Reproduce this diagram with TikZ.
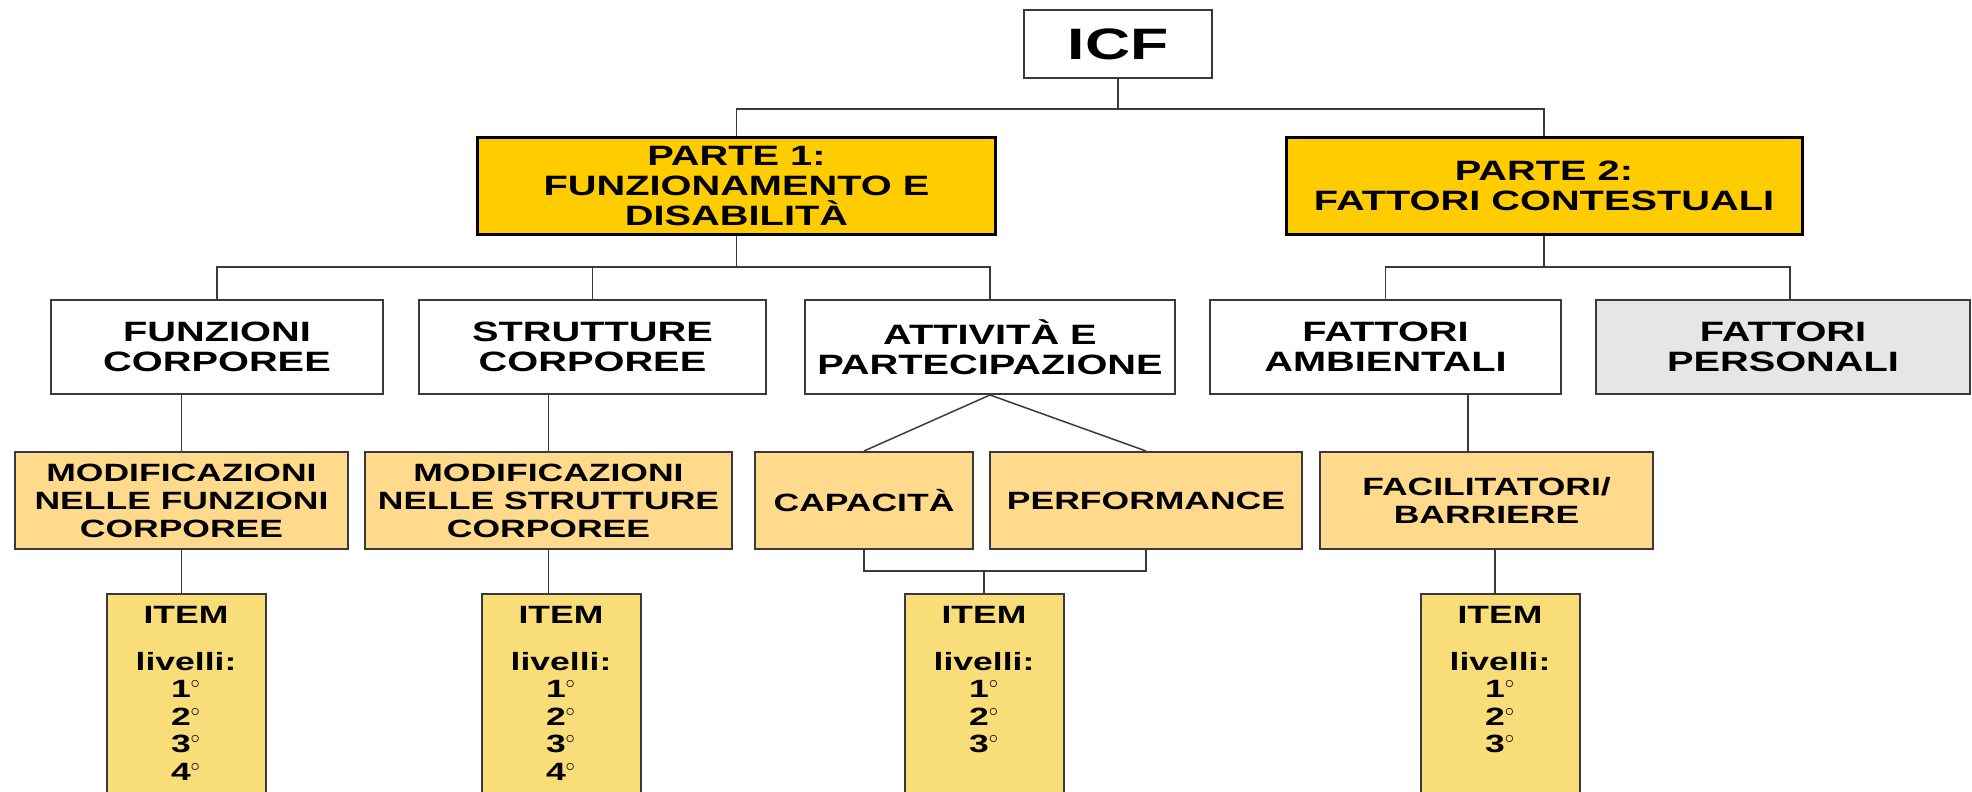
\documentclass[tikz,border=0pt]{standalone}
\usepackage{fontspec}
\setmainfont[FakeStretch=1.42]{Liberation Sans}
\usepackage{tikz}
\usetikzlibrary{positioning}

\definecolor{partgold}{HTML}{FFCC00}
\definecolor{peach}{HTML}{FFD98C}
\definecolor{itemyellow}{HTML}{F9DD78}
\definecolor{persgray}{HTML}{E6E6E6}
\definecolor{linegray}{HTML}{3A3A3A}

\tikzset{
  box/.style={draw=linegray, line width=1pt, align=center, inner sep=2pt, font=\bfseries},
  icfbox/.style={box, fill=white, font=\fontsize{22}{24}\selectfont\bfseries},
  partbox/.style={box, draw=black, line width=1.5pt, fill=partgold, minimum height=48.5pt, font=\fontsize{14}{15}\selectfont\bfseries},
  lvtwo/.style={box, fill=white, minimum height=47pt, font=\fontsize{14}{15}\selectfont\bfseries},
  lvthree/.style={box, fill=peach, minimum height=48.5pt, font=\fontsize{12.5}{14}\selectfont\bfseries},
  itembox/.style={box, fill=itemyellow, anchor=north, minimum width=79.5pt, inner ysep=6pt, text depth=30pt, font=\fontsize{12.5}{13.75}\selectfont\bfseries},
  conn/.style={draw=linegray, line width=0.75pt}
}

\begin{document}
\begin{tikzpicture}[x=0.5pt,y=0.5pt,yscale=-1,xscale=1]
\useasboundingbox (0,0) rectangle (1972,792);

% Root
\node[icfbox, minimum width=94pt, minimum height=34pt] (icf) at (1118,44) {ICF};

% Parts
\node[partbox, minimum width=259pt] (p1) at (736.5,186) {PARTE 1:\\FUNZIONAMENTO E\\DISABILITÀ};
\node[partbox, minimum width=258pt] (p2) at (1544,186) {PARTE 2:\\FATTORI CONTESTUALI};

% Components
\node[lvtwo, minimum width=166pt] (funz) at (217,347) {FUNZIONI\\CORPOREE};
\node[lvtwo, minimum width=173.5pt] (strut) at (592.5,347) {STRUTTURE\\CORPOREE};
\node[lvtwo, minimum width=185pt] (att) at (990,347) {ATTIVITÀ E\\PARTECIPAZIONE};
\node[lvtwo, minimum width=175.5pt] (amb) at (1385.5,347) {FATTORI\\AMBIENTALI};
\node[lvtwo, fill=persgray, minimum width=187pt] (pers) at (1783,347) {FATTORI\\PERSONALI};

% Constructs
\node[lvthree, minimum width=166.5pt] (modf) at (181.5,500.5) {MODIFICAZIONI\\NELLE FUNZIONI\\CORPOREE};
\node[lvthree, minimum width=183.5pt] (mods) at (548.5,500.5) {MODIFICAZIONI\\NELLE STRUTTURE\\CORPOREE};
\node[lvthree, minimum width=109pt] (cap) at (864,500.5) {CAPACITÀ};
\node[lvthree, minimum width=156pt] (perf) at (1146,500.5) {PERFORMANCE};
\node[lvthree, minimum width=166.5pt] (fac) at (1486.5,500.5) {FACILITATORI/\\BARRIERE};

% Items
\node[itembox] (it1) at (186,593) {ITEM\\[9.75pt]livelli:\\1$^{\circ}$\\2$^{\circ}$\\3$^{\circ}$\\4$^{\circ}$};
\node[itembox] (it2) at (561,593) {ITEM\\[9.75pt]livelli:\\1$^{\circ}$\\2$^{\circ}$\\3$^{\circ}$\\4$^{\circ}$};
\node[itembox] (it3) at (984,593) {ITEM\\[9.75pt]livelli:\\1$^{\circ}$\\2$^{\circ}$\\3$^{\circ}$};
\node[itembox] (it4) at (1500,593) {ITEM\\[9.75pt]livelli:\\1$^{\circ}$\\2$^{\circ}$\\3$^{\circ}$};

% Branch points
\coordinate (trunk) at (1118,109);
\coordinate (b1) at (736.5,267);
\coordinate (b2) at (1544,267);
\coordinate (b3) at (984,571);

% Connectors
\draw[conn] (icf.south) -- (trunk);
\draw[conn] (p1.north) |- (trunk) -| (p2.north);
\draw[conn] (p1.south) -- (b1);
\draw[conn] (funz.north) |- (b1) -| (att.north);
\draw[conn] (strut.north) -- (strut.north |- b1);
\draw[conn] (p2.south) -- (b2);
\draw[conn] (amb.north) |- (b2) -| ([xshift=3.5pt]pers.north);
\draw[conn] (modf.north) -- (modf.north |- funz.south);
\draw[conn] (mods.north) -- (mods.north |- strut.south);
\draw[conn] (cap.north) -- (att.south) -- (perf.north);
\draw[conn] ([xshift=41.25pt]amb.south) -- ([xshift=41.25pt]amb.south |- fac.north);
\draw[conn] (modf.south) -- (modf.south |- it1.north);
\draw[conn] (mods.south) -- (mods.south |- it2.north);
\draw[conn] (cap.south) |- (b3) -| (perf.south);
\draw[conn] (b3) -- (it3.north);
\draw[conn] ([xshift=-2.5pt]it4.north) -- ([xshift=-2.5pt]it4.north |- fac.south);

\end{tikzpicture}
\end{document}
